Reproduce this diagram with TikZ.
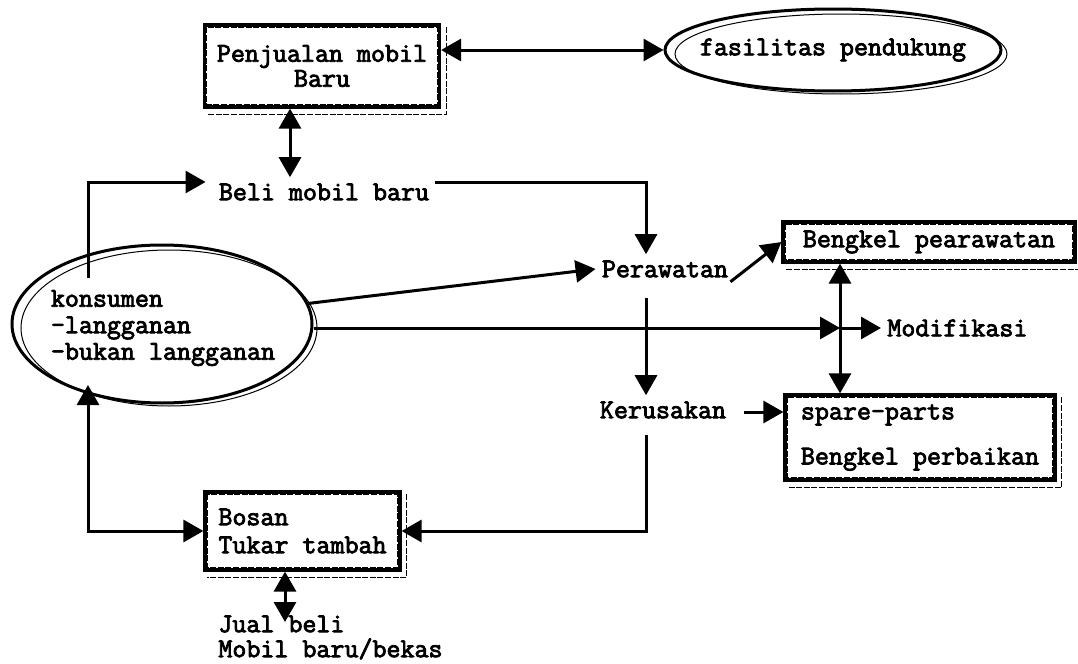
\documentclass[tikz,border=0pt]{standalone}
\usepackage{fontspec}
\usetikzlibrary{arrows.meta,calc,shapes.geometric}
\newfontfamily\courfont[FakeBold=3]{Latin Modern Mono}
\newcommand\diafont{\courfont\fontsize{13.6pt}{12.5pt}\selectfont}

\begin{document}
\begin{tikzpicture}[x=0.5pt,y=-0.5pt,
  lbl/.style={font=\diafont, inner sep=3pt},
  boxnode/.style={draw, line width=1.6pt, inner sep=0pt, font=\diafont},
  oval/.style={ellipse, draw, line width=1.5pt, inner sep=0pt},
  ovalin/.style={ellipse, draw, line width=0.5pt, inner sep=0pt},
  conn/.style={line width=1.5pt},
  arr/.style={conn, -{Triangle[length=10pt,width=11pt]}},
  dbl/.style={conn, {Triangle[length=10pt,width=11pt]}-{Triangle[length=10pt,width=11pt]}},
  thinline/.style={line width=0.5pt, dash pattern=on 3pt off 0.8pt},
]
\useasboundingbox (0,0) rectangle (1078,664);

% boxes
\node[boxnode, minimum width=117.5pt, minimum height=41pt, align=center] (penj) at (322,66) {Penjualan mobil\\Baru};
\node[boxnode, minimum width=146pt, minimum height=20pt] (bp) at (929,242) {Bengkel pearawatan};
\node[boxnode, minimum width=135pt, minimum height=42.5pt, align=left] (sp) at (920,437.5) {spare-parts\\[10pt]Bengkel perbaikan};
\node[boxnode, minimum width=97.5pt, minimum height=39pt, align=left, font=\courfont\fontsize{13.6pt}{14pt}\selectfont] (bosan) at (302.5,531) {Bosan\\Tukar tambah};

% inner frames and offset shadows of the boxes
\foreach \b in {penj,bp,sp,bosan}{
  \draw[thinline] ($(\b.north west)+(4,4)$) rectangle ($(\b.south east)+(-4,-4)$);
  \draw[thinline] ($(\b.north east)+(5,4)$) -- ($(\b.south east)+(5,6)$) -- ($(\b.south west)+(4,6)$);
}

% ovals, each with a thin second outline shifted down and right
\node[oval, minimum width=168pt, minimum height=41pt] (fas) at (833,50) {};
\node[ovalin, minimum width=166pt, minimum height=40pt] (fasin) at (841,54) {};
\node[lbl] (fastext) at (fas.center) {fasilitas pendukung};

\node[oval, minimum width=150pt, minimum height=79pt] (kons) at (162,324) {};
\node[ovalin, minimum width=148pt, minimum height=78pt] (konsin) at (169,328) {};
\node[lbl, align=left, font=\courfont\fontsize{13.6pt}{13.25pt}\selectfont] (konstext) at (163,328) {konsumen\\-langganan\\-bukan langganan};

% plain labels
\node[lbl] (beli) at (324,192) {Beli mobil baru};
\node[lbl] (pera) at (665,269) {Perawatan};
\node[lbl] (ker) at (663,410) {Kerusakan};
\node[lbl, anchor=west] (modif) at (881,328) {Modifikasi};
\node[lbl, align=left, anchor=west] (jual) at (212,637.5) {Jual beli\\Mobil baru/bekas};

% junction points
\coordinate (k1) at (88,278);
\coordinate (k2) at (88,385);
\coordinate (k3) at (285,622);
\coordinate (mx) at (840,328);

% connectors
\draw[dbl] (penj.east |- fas.west) -- (fas.west);
\draw[dbl] ($(penj.south)+(-32,0)$) -- ($(beli.north)+(-34,0)$);
\draw[arr] (k1) |- ($(beli.west)+(-7,-10)$);
\draw[arr] ($(beli.east)+(0,-10)$) -| ($(pera.north)+(-19,0)$);
\draw[arr] (kons.8) -- (pera.west);
\draw[arr] ($(pera.south east)+(-4,-2)$) -- (bp.west);
\draw[arr] (kons.east |- modif.west) -- (mx);
\draw[arr] (mx) -- (modif.west);
\draw[dbl] (bp.south -| mx) -- (sp.north -| mx);
\draw[arr] ($(pera.south)+(-19,14)$) -- ($(ker.north)+(-17,0)$);
\draw[arr] ($(ker.east)+(12,2)$) -- ($(sp.west |- ker.east)+(0,2)$);
\draw[arr] ($(ker.south)+(-17,10)$) |- (bosan.east);
\draw[dbl] (k2) |- (bosan.west);
\draw[dbl] ($(bosan.south)+(-17.5,0)$) -- (k3);
\end{tikzpicture}
\end{document}
